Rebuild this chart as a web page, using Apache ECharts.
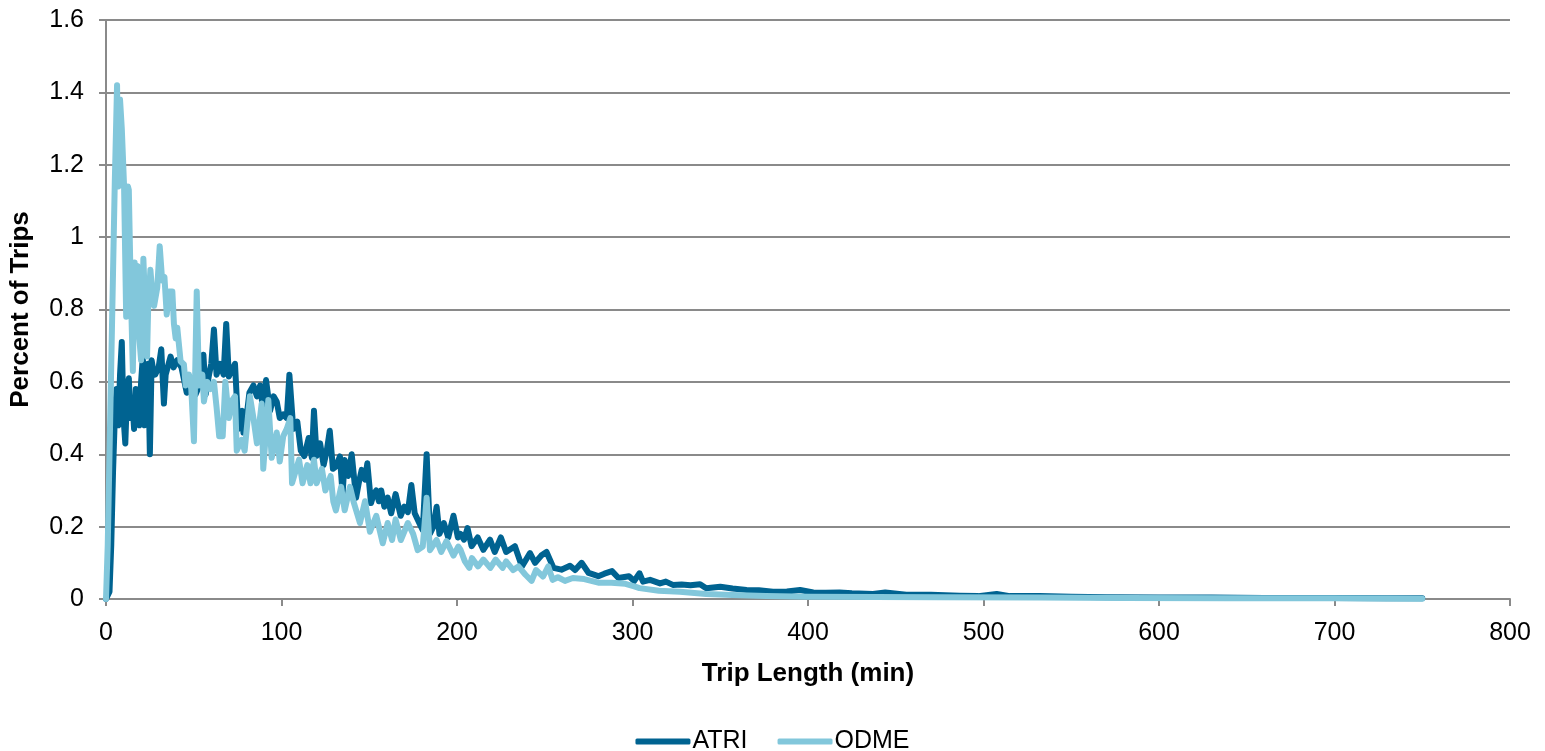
<!DOCTYPE html>
<html>
<head>
<meta charset="utf-8">
<script src="https://cdn.jsdelivr.net/npm/echarts@6/dist/echarts.min.js"></script>
<style>
html,body{margin:0;padding:0;background:#fff;}
#chart{width:1545px;height:751px;}
</style>
</head>
<body>
<div id="chart"></div>
<script>
// ---- data ----
const seriesNames = ['ATRI', 'ODME'];
const xTickLabels = ['0','100','200','300','400','500','600','700','800'];
const yTickLabels = ['0','0.2','0.4','0.6','0.8','1','1.2','1.4','1.6'];

const atriMin = [0,1,2,3,4,5,6,7,8,9,10,11,12,13,14,15,16,17,18,19,20,21,22,23,24,25,26,27,28,30,31.5,33,34,36.8,38.5,40.6,43,46,48.5,51,54,55.5,56.8,58.7,60,61.5,63,65,67,68.5,70,71,73.5,75.4,77.7,78.3,80,81.7,84,86,87.8,89.3,91.2,93.5,95.5,97.3,99,101,103,104.5,106.7,109,111,113,115.5,117.3,118.5,120,122,124,125.8,127.5,129.3,131,133.3,134.8,136,138,140,142.5,144,145.7,147.6,148.9,151,152.5,154,155.5,156.8,158.6,160.5,162.5,165,167.9,170,172,174,175.9,178.5,180.5,182.7,184.6,186.5,188.4,190,192.5,195,198,200.5,202,204,206,208.3,211.8,215,218.8,221.5,225,228,233,237,241.6,244.5,248,251,255,259.5,264.4,267.3,271,275,280.5,284,288.3,292,298,301,304,306,310,315.7,319,323,328,333,338.5,342,350,357,365,372,380,388,395.5,403,410,418,425,437,444,456,470,486.5,497,507.5,515,532,550,570,600,630,660,700,730,750];
const atriPct = [0,0,0.02,0.15,0.35,0.5,0.58,0.48,0.62,0.71,0.5,0.43,0.57,0.61,0.5,0.55,0.47,0.58,0.56,0.48,0.6,0.67,0.48,0.56,0.65,0.40,0.66,0.63,0.62,0.64,0.69,0.54,0.62,0.67,0.64,0.66,0.64,0.57,0.59,0.565,0.6,0.675,0.565,0.62,0.65,0.745,0.62,0.65,0.62,0.76,0.615,0.61,0.65,0.47,0.52,0.46,0.5,0.57,0.59,0.56,0.59,0.53,0.605,0.52,0.56,0.545,0.5,0.51,0.5,0.62,0.47,0.49,0.41,0.395,0.445,0.39,0.52,0.395,0.43,0.37,0.41,0.465,0.36,0.366,0.394,0.29,0.384,0.34,0.4,0.28,0.32,0.357,0.33,0.375,0.265,0.29,0.3,0.27,0.3,0.255,0.28,0.237,0.29,0.23,0.255,0.24,0.315,0.237,0.21,0.19,0.4,0.18,0.2,0.255,0.18,0.21,0.17,0.23,0.17,0.18,0.164,0.196,0.146,0.17,0.136,0.164,0.13,0.17,0.13,0.146,0.09,0.127,0.1,0.12,0.13,0.086,0.081,0.092,0.08,0.1,0.072,0.063,0.07,0.077,0.058,0.063,0.05,0.071,0.048,0.053,0.043,0.048,0.039,0.04,0.038,0.041,0.03,0.034,0.029,0.025,0.024,0.02,0.021,0.025,0.018,0.017,0.018,0.016,0.014,0.018,0.012,0.012,0.009,0.008,0.014,0.008,0.008,0.006,0.005,0.004,0.004,0.003,0.003,0.002,0.002];

const odmeMin = [0,1,2,3,4,5,6.3,7,8,9,10.3,11.5,12.5,13,14,15.3,16.3,17,18,19,20,21.3,22,23.4,24,25.3,26.3,27.4,29.2,30.6,32,33.3,34.6,35.9,37.8,38.7,39.7,40.6,42.5,44.4,45.4,47.3,48.6,50.1,51.7,53,54.9,55.8,57.7,59.6,61.5,63,64.5,66.5,68,70,72,73.5,74.5,77.3,79,82,84,86,88.7,89.6,92.5,94.4,97.3,99,101,103,105,106,110,112,114.7,116.5,118.5,120,123,125,128,129.5,131,134,136,139,141,144.7,147.6,150.4,154,157.7,160.5,163,165,168,172,175,177.6,180.5,182.7,184.6,188.4,191,194,198,200.7,202,204.5,207,208.5,212,215,219,222,226,228,232,235,239,242.5,245,249,252,254.5,257.5,261.5,266,272.5,280.5,288,296,301,304,315,327,342,357,376,400,438,475,532,580,640,700,750];
const odmePct = [0,0.15,0.4,0.65,0.9,1.15,1.42,1.14,1.38,1.3,1.14,0.78,1.14,1.13,0.88,0.63,0.93,0.88,0.92,0.72,0.66,0.94,0.85,0.67,0.8,0.91,0.85,0.81,0.86,0.975,0.88,0.89,0.786,0.85,0.85,0.76,0.72,0.75,0.657,0.648,0.59,0.62,0.58,0.436,0.85,0.59,0.62,0.546,0.6,0.58,0.6,0.53,0.45,0.45,0.6,0.5,0.55,0.56,0.41,0.44,0.41,0.56,0.5,0.43,0.54,0.36,0.55,0.39,0.46,0.38,0.45,0.47,0.5,0.32,0.385,0.32,0.37,0.32,0.385,0.32,0.36,0.30,0.34,0.27,0.245,0.31,0.245,0.31,0.27,0.21,0.27,0.186,0.23,0.154,0.21,0.163,0.22,0.163,0.21,0.18,0.135,0.145,0.28,0.135,0.163,0.13,0.16,0.12,0.145,0.136,0.104,0.086,0.113,0.09,0.109,0.086,0.109,0.086,0.104,0.08,0.09,0.067,0.05,0.08,0.062,0.09,0.053,0.06,0.05,0.058,0.055,0.045,0.045,0.042,0.035,0.03,0.023,0.02,0.014,0.011,0.008,0.006,0.0055,0.005,0.004,0.003,0.002,0.002,0.001];

const seriesColors = ['#006391', '#82C7DB'];
const seriesX = [atriMin, odmeMin];
const seriesY = [atriPct, odmePct];

// ---- chart ----
const chart = echarts.init(document.getElementById('chart'), null, {renderer: 'canvas'});
const FONT = '"Liberation Sans", Arial, sans-serif';
const axisGray = '#8a8a8a';

chart.setOption({
  animation: false,
  backgroundColor: '#ffffff',
  textStyle: {fontFamily: FONT},
  grid: {left: 106, right: 35, top: 20, bottom: 152, containLabel: false, outerBoundsMode: 'none'},
  legend: {
    bottom: -8,
    left: 'center',
    icon: 'roundRect',
    itemWidth: 55,
    itemHeight: 6,
    itemGap: 30,
    textStyle: {fontFamily: FONT, fontSize: 25, color: '#000', padding: [0, 0, 0, -3]},
    data: seriesNames
  },
  xAxis: {
    type: 'value',
    min: 0, max: 800, interval: 100,
    name: 'Trip Length (min)',
    nameLocation: 'middle',
    nameGap: 62,
    nameTextStyle: {fontFamily: FONT, fontSize: 26, fontWeight: 'bold', color: '#000'},
    axisLine: {show: true, lineStyle: {color: axisGray, width: 2}},
    axisTick: {show: true, inside: false, length: 7, lineStyle: {color: axisGray, width: 2}},
    axisLabel: {fontFamily: FONT, fontSize: 25, color: '#000', margin: 22,
      formatter: v => xTickLabels[Math.round(v / 100)]},
    splitLine: {show: false}
  },
  yAxis: {
    type: 'value',
    min: 0, max: 1.6, interval: 0.2,
    name: 'Percent of Trips',
    nameLocation: 'middle',
    nameGap: 72,
    nameRotate: 90,
    nameTextStyle: {fontFamily: FONT, fontSize: 26, fontWeight: 'bold', color: '#000'},
    axisLine: {show: true, lineStyle: {color: axisGray, width: 2}},
    axisTick: {show: true, inside: false, length: 7, lineStyle: {color: axisGray, width: 2}},
    axisLabel: {fontFamily: FONT, fontSize: 25, color: '#000', margin: 22,
      formatter: v => yTickLabels[Math.round(v / 0.2)]},
    splitLine: {show: true, lineStyle: {color: axisGray, width: 2}}
  },
  series: seriesNames.map((name, k) => ({
    name: name,
    type: 'line',
    showSymbol: false,
    symbol: 'none',
    smooth: false,
    color: seriesColors[k],
    itemStyle: {color: seriesColors[k]},
    lineStyle: {color: seriesColors[k], width: 6, join: 'round', cap: 'round'},
    data: seriesX[k].map((m, i) => [m, seriesY[k][i]]),
    z: 2 + k
  }))
});
</script>
</body>
</html>
